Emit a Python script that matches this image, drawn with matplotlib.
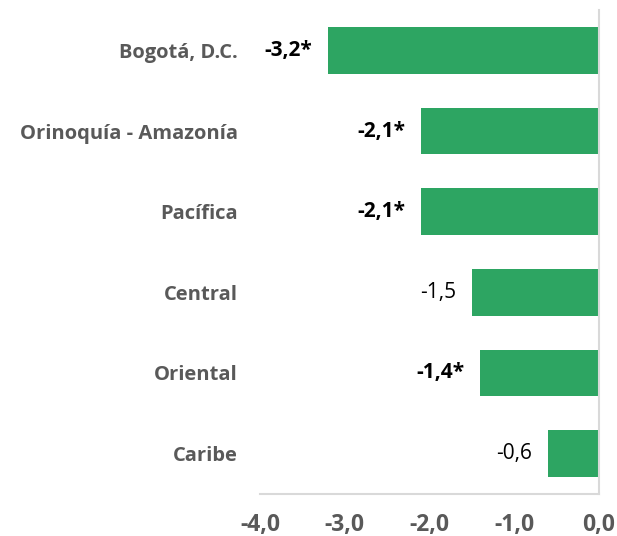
import matplotlib
matplotlib.use('Agg')
import matplotlib.pyplot as plt

plt.rcParams['font.family'] = ['Open Sans', 'DejaVu Sans']

regiones = ['Bogotá, D.C.', 'Orinoquía - Amazonía', 'Pacífica', 'Central', 'Oriental', 'Caribe']
valores = [-3.2, -2.1, -2.1, -1.5, -1.4, -0.6]
significativo = [True, True, True, False, True, False]
xticks = [-4.0, -3.0, -2.0, -1.0, 0.0]

verde = '#2DA562'
gris = '#595959'
linea = '#D9D9D9'

fig = plt.figure(figsize=(6.17, 5.36), dpi=100)
ax = fig.add_axes([0.4214, 0.0784, 0.5494, 0.9029])

y = list(range(len(regiones)))
ax.barh(y, valores, height=0.58, color=verde, zorder=2)

for yi, v, sig in zip(y, valores, significativo):
    txt = f'{v:.1f}'.replace('.', ',') + ('*' if sig else '')
    ax.annotate(txt, xy=(v, yi), xytext=(-11.5, 0), textcoords='offset points',
                ha='right', va='center', fontsize=15,
                fontweight='bold' if sig else 'normal', color='black')

ax.set_xlim(-4.0, 0.0)
ax.set_ylim(len(regiones) - 0.5, -0.5)
ax.set_yticks(y)
ax.set_yticklabels(regiones, fontsize=14.5, fontweight='bold', color=gris)
ax.set_xticks(xticks)
ax.set_xticklabels([f'{t:.1f}'.replace('.', ',') for t in xticks],
                   fontsize=16.5, fontweight='bold', color=gris)
ax.tick_params(axis='both', length=0)
ax.tick_params(axis='y', pad=16)
ax.tick_params(axis='x', pad=14)

for s in ['top', 'left']:
    ax.spines[s].set_visible(False)
ax.spines['bottom'].set_color(linea)
ax.spines['bottom'].set_linewidth(1.5)
ax.spines['right'].set_color(linea)
ax.spines['right'].set_linewidth(1.5)

plt.savefig('out.png', dpi=100)
